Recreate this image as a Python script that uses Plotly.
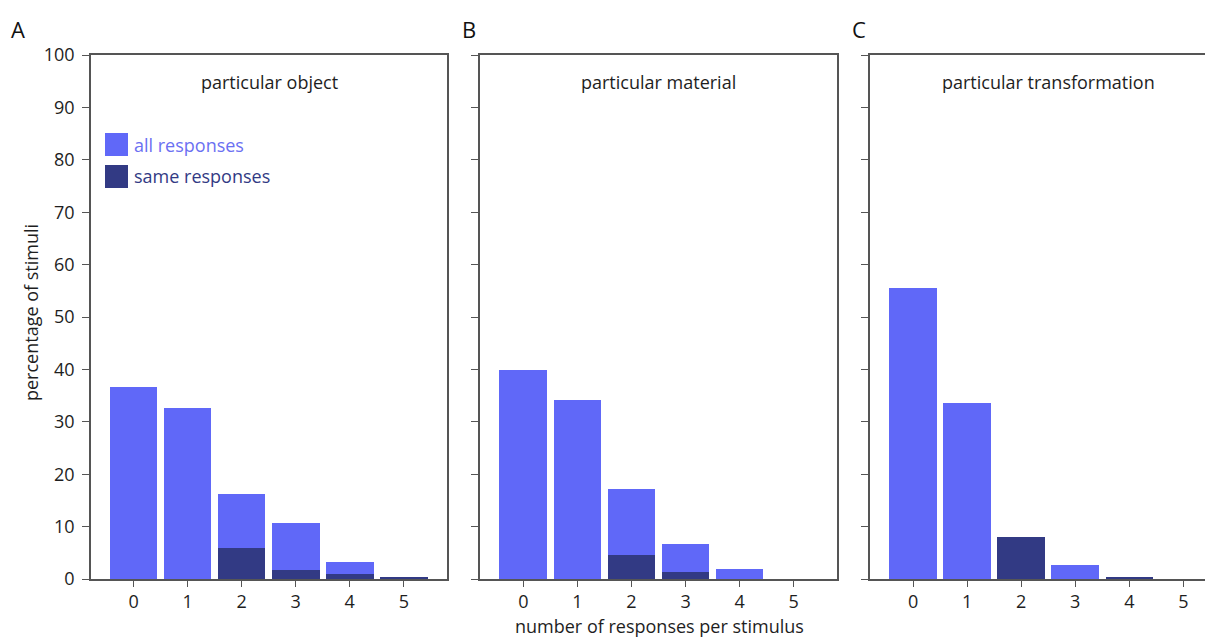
import plotly.graph_objects as go

categories = [0, 1, 2, 3, 4, 5]
tick_labels = ["0", "1", "2", "3", "4", "5"]
panel_titles = ["particular object", "particular material", "particular transformation"]
panel_letters = ["A", "B", "C"]
series_names = ["all responses", "same responses"]

object_all = [36.7, 32.7, 16.2, 10.6, 3.2, 0.3]
object_same = [0, 0, 5.9, 1.7, 1.0, 0.2]
material_all = [39.9, 34.2, 17.2, 6.7, 2.0, 0]
material_same = [0, 0, 4.5, 1.4, 0, 0]
transformation_all = [55.6, 33.5, 8.1, 2.6, 0.3, 0]
transformation_same = [0, 0, 8.1, 0, 0.2, 0]

y_ticks = [0, 10, 20, 30, 40, 50, 60, 70, 80, 90, 100]

COL_ALL = "#6068f8"
COL_SAME = "#323a84"
COL_ALL_TXT = "#6b70f2"
LINE = "#555555"
TXT = "#1e1e1e"
FONT = "Open Sans"

# page offset of the figure inside the browser (body margin)
OFF = 8
W, H = 1213 - OFF, 637 - OFF
# reference pixel geometry (page coordinates)
LEFT, TOP, BOTTOM = 91, 55, 579
ML, MT = LEFT - OFF, TOP - OFF
MB = H - (BOTTOM - OFF)
MR = 0
PW = W - ML - MR
PH = H - MT - MB

def fx(xpage):
    return (xpage - OFF - ML) / PW

def fy(ypage):
    return (H - MB - (ypage - OFF)) / PH

domains = [[0, fx(447)], [fx(480), fx(837)], [fx(870), 1.0]]
xranges = [[-0.79, 5.8], [-0.8, 5.8], [-0.8, 5.55]]

panels = [
    (object_all, object_same),
    (material_all, material_same),
    (transformation_all, transformation_same),
]

fig = go.Figure()
for i, (a, s) in enumerate(panels):
    xa = "x" if i == 0 else f"x{i+1}"
    ya = "y" if i == 0 else f"y{i+1}"
    fig.add_trace(go.Bar(x=categories, y=a, width=0.88, marker_color=COL_ALL,
                         marker_line_width=0, name=series_names[0],
                         showlegend=False, xaxis=xa, yaxis=ya))
    fig.add_trace(go.Bar(x=categories, y=s, width=0.88, marker_color=COL_SAME,
                         marker_line_width=0, name=series_names[1],
                         showlegend=False, xaxis=xa, yaxis=ya))

layout = dict(
    width=W, height=H,
    margin=dict(l=ML, r=MR, t=MT, b=MB, pad=0),
    paper_bgcolor="white", plot_bgcolor="white",
    barmode="overlay", bargap=0,
    font=dict(family=FONT, size=18, color=TXT),
    showlegend=False,
)

for i in range(3):
    sfx = "" if i == 0 else str(i + 1)
    layout["xaxis" + sfx] = dict(
        domain=domains[i], range=xranges[i],
        tickmode="array", tickvals=categories, ticktext=tick_labels,
        ticks="outside", ticklen=6, tickwidth=1.2, tickcolor=LINE,
        showline=True, linecolor=LINE, linewidth=1.5, mirror=True,
        showgrid=False, zeroline=False, anchor="y" + sfx,
        tickfont=dict(size=18, color=TXT), fixedrange=True,
    )
    layout["yaxis" + sfx] = dict(
        range=[0, 100], tickmode="array", tickvals=y_ticks,
        ticktext=[str(v) for v in y_ticks],
        showticklabels=(i == 0), ticklabelstandoff=4,
        ticks="outside", ticklen=7, tickwidth=1.2, tickcolor=LINE,
        showline=True, linecolor=LINE, linewidth=1.5, mirror=(i < 2),
        showgrid=False, zeroline=False, anchor="x" + sfx,
        tickfont=dict(size=18, color=TXT), fixedrange=True,
    )

fig.update_layout(**layout)

# y axis title
fig.add_annotation(text="percentage of stimuli", xref="paper", yref="paper",
                   x=fx(31), y=fy(313), textangle=-90, showarrow=False,
                   xanchor="center", yanchor="middle", font=dict(size=18, color=TXT))

# panel titles
title_x = [0.5, 0.5, 178 / 343]
for i in range(3):
    sfx = "" if i == 0 else str(i + 1)
    fig.add_annotation(text=panel_titles[i], xref=f"x{sfx} domain", yref=f"y{sfx} domain",
                       x=title_x[i], y=(BOTTOM - 82) / (BOTTOM - TOP), showarrow=False,
                       xanchor="center", yanchor="middle", font=dict(size=18, color=TXT))

# panel letters
letter_x = [18, 469, 859]
for i in range(3):
    fig.add_annotation(text=panel_letters[i], xref="paper", yref="paper",
                       x=fx(letter_x[i]), y=fy(29), showarrow=False,
                       xanchor="center", yanchor="middle",
                       font=dict(size=22, color="#111111"))

# x axis title
fig.add_annotation(text="number of responses per stimulus", xref="paper", yref="paper",
                   x=fx(659), y=fy(626), showarrow=False, xanchor="center", yanchor="middle",
                   font=dict(size=18, color=TXT))

# legend (panel A)
leg_items = [(series_names[0], COL_ALL, COL_ALL_TXT, 144.5),
             (series_names[1], COL_SAME, COL_SAME, 176.5)]
pw_a = 447 - LEFT
ph = BOTTOM - TOP
for name, col, tcol, yc in leg_items:
    fig.add_shape(type="rect", xref="x domain", yref="y domain",
                  x0=(105 - LEFT) / pw_a, x1=(128 - LEFT) / pw_a,
                  y0=(BOTTOM - yc - 11.5) / ph, y1=(BOTTOM - yc + 11.5) / ph,
                  fillcolor=col, line_width=0)
    fig.add_annotation(text=name, xref="x domain", yref="y domain",
                       x=(132 - LEFT) / pw_a, y=(BOTTOM - yc) / ph, showarrow=False,
                       xanchor="left", yanchor="middle", font=dict(size=18, color=tcol))

fig.write_html("out.html")
